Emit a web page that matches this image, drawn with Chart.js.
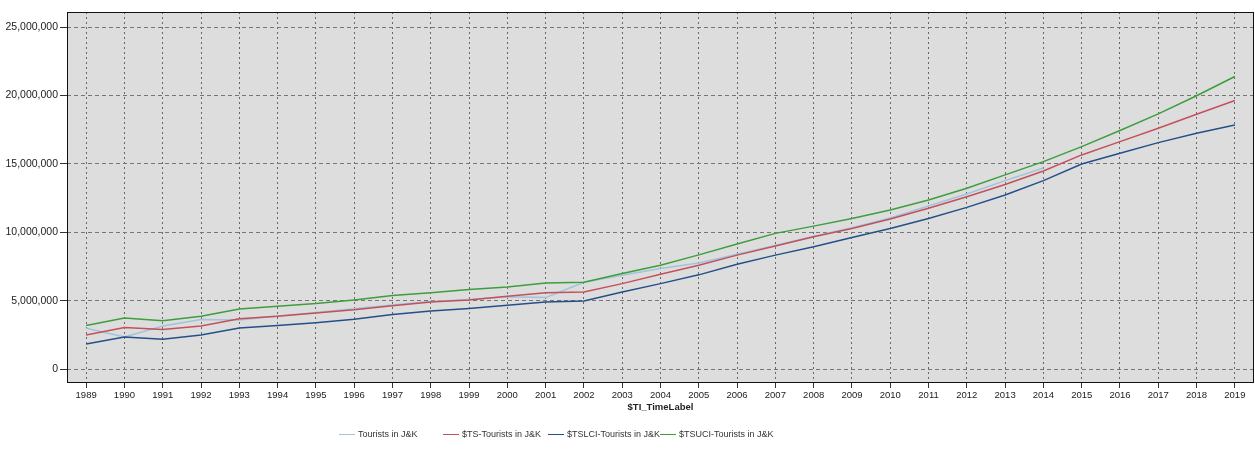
<!DOCTYPE html>
<html lang="en">
<head>
  <meta charset="UTF-8" />
  <title>Tourists in J&amp;K</title>
  <script src="https://cdn.jsdelivr.net/npm/chart.js"></script>
  <style>
    body { margin: 0; background: #fff; font-family: Arial, "Liberation Sans", sans-serif; }
    #wrap { position: relative; width: 1255px; height: 453px; }
    #legend { position: absolute; top: 428px; left: 0; width: 1255px; height: 14px; font-size: 9px; color: #333; }
    .item { position: absolute; top: 0; white-space: nowrap; line-height: 12px; }
    .item i { display: inline-block; width: 16px; height: 0; border-top: 1.5px solid; vertical-align: middle; margin-right: 3px; }
  </style>
</head>
<body>
  <div id="wrap">
    <canvas id="grafico" width="1255" height="453"></canvas>
    <div id="legend"></div>
  </div>

  <script>
    const years = [1989, 1990, 1991, 1992, 1993, 1994, 1995, 1996, 1997, 1998, 1999,
      2000, 2001, 2002, 2003, 2004, 2005, 2006, 2007, 2008, 2009, 2010, 2011, 2012,
      2013, 2014, 2015, 2016, 2017, 2018, 2019];

    // observed series, ends in 2014
    const tourists = [3000000, 2360000, 3170000, 3630000, 3600000, 3900000, 4150000, 4420000,
      4700000, 4950000, 5100000, 5300000, 5240000, 6360000, 6870000, 7360000, 7770000,
      8400000, 9050000, 9720000, 10350000, 11050000, 11930000, 12800000, 13780000, 14700000,
      null, null, null, null, null];

    const tsFit = [2500000, 3050000, 2900000, 3170000, 3700000, 3870000, 4120000, 4350000,
      4650000, 4920000, 5060000, 5330000, 5600000, 5650000, 6260000, 6940000, 7600000,
      8340000, 9000000, 9680000, 10290000, 10980000, 11760000, 12610000, 13500000, 14490000,
      15660000, 16630000, 17610000, 18630000, 19630000];

    const tsLower = [1850000, 2360000, 2200000, 2500000, 3020000, 3200000, 3400000, 3650000,
      4000000, 4260000, 4450000, 4680000, 4920000, 4990000, 5650000, 6260000, 6900000,
      7680000, 8340000, 8950000, 9630000, 10290000, 11020000, 11830000, 12730000, 13780000,
      15000000, 15780000, 16560000, 17240000, 17850000];

    const tsUpper = [3200000, 3750000, 3550000, 3870000, 4400000, 4600000, 4800000, 5070000,
      5400000, 5600000, 5830000, 6020000, 6310000, 6360000, 7000000, 7600000, 8360000,
      9150000, 9930000, 10460000, 11020000, 11630000, 12370000, 13220000, 14200000, 15170000,
      16270000, 17440000, 18660000, 19980000, 21390000];

    const yTicks = [0, 5000000, 10000000, 15000000, 20000000, 25000000];

    const seriesNames = ['Tourists in J&K', '$TS-Tourists in J&K', '$TSLCI-Tourists in J&K', '$TSUCI-Tourists in J&K'];
    const seriesColors = ['#9fc4dc', '#c4505c', '#24508a', '#3c9e3c'];
    const legendLeft = [339, 443, 548, 660];

    Chart.defaults.font.family = 'Arial, "Liberation Sans", sans-serif';
    Chart.defaults.color = '#222';

    // grey plot background + black frame
    const plotFrame = {
      id: 'plotFrame',
      beforeDraw(chart) {
        const { ctx, chartArea: a } = chart;
        ctx.save();
        ctx.fillStyle = '#dddddd';
        ctx.fillRect(a.left, a.top, a.right - a.left, a.bottom - a.top);
        ctx.restore();
      },
      afterDraw(chart) {
        const { ctx, chartArea: a } = chart;
        ctx.save();
        ctx.strokeStyle = '#111';
        ctx.lineWidth = 1;
        ctx.strokeRect(a.left + 0.5, a.top + 0.5, a.right - a.left - 1, a.bottom - a.top - 1);
        ctx.restore();
      }
    };

    const allSeries = [tourists, tsFit, tsLower, tsUpper];

    const ctx = document.getElementById('grafico').getContext('2d');
    const chart = new Chart(ctx, {
      type: 'line',
      data: {
        labels: years,
        datasets: allSeries.map((serie, i) => ({
          label: seriesNames[i],
          data: serie,
          borderColor: seriesColors[i],
          borderWidth: 1.5,
          pointRadius: 0,
          tension: 0,
          order: 3 - i
        }))
      },
      plugins: [plotFrame],
      options: {
        responsive: false,
        animation: false,
        events: [],
        layout: { padding: { top: 12, right: 1, bottom: 40, left: 0 } },
        plugins: { legend: { display: false }, tooltip: { enabled: false } },
        scales: {
          x: {
            offset: true,
            afterFit: s => { s.height = 30; },
            grid: { color: '#666', tickColor: '#333', tickLength: 5 },
            border: { display: false, dash: [2, 3] },
            ticks: { font: { size: 9.5 }, padding: 2, maxRotation: 0, autoSkip: false },
            title: { display: true, text: '$TI_TimeLabel', font: { size: 9.5, weight: 'bold' }, padding: 0, color: '#222' }
          },
          y: {
            min: -1000000,
            max: 26100000,
            afterFit: s => { s.width = 67; },
            afterBuildTicks: s => { s.ticks = yTicks.map(v => ({ value: v })); },
            grid: { color: '#777', tickColor: '#333', tickLength: 7 },
            border: { display: false, dash: [4, 3] },
            ticks: {
              padding: 2,
              font: { size: 10.5 },
              callback: v => v.toLocaleString('en-US')
            }
          }
        }
      }
    });

    const legend = document.getElementById('legend');
    seriesNames.forEach((name, i) => {
      const item = document.createElement('div');
      item.className = 'item';
      item.style.left = legendLeft[i] + 'px';
      const mark = document.createElement('i');
      mark.style.borderColor = seriesColors[i];
      item.appendChild(mark);
      item.appendChild(document.createTextNode(name));
      legend.appendChild(item);
    });
  </script>
</body>
</html>
